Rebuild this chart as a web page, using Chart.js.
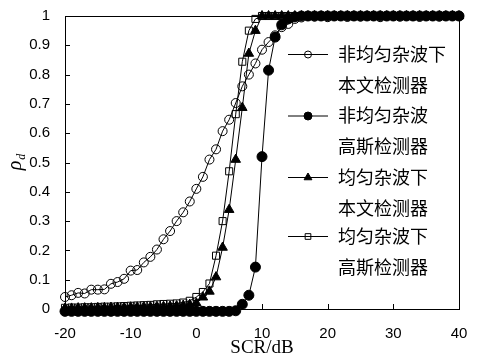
<!DOCTYPE html>
<html>
<head>
<meta charset="utf-8">
<script src="https://cdn.jsdelivr.net/npm/chart.js@4/dist/chart.umd.min.js"></script>
<style>
  html, body { margin: 0; padding: 0; background: #fff; }
  #wrap { width: 479px; height: 359px; }
</style>
</head>
<body>
<div id="wrap"><canvas id="pd"></canvas></div>
<script>
// SCR in dB, one point per dB
const scrDb = []
for (let v = -20; v <= 40; v++) scrDb.push(v)

const xTicks = [-20, -10, 0, 10, 20, 30, 40]
const yTicks = [0, 0.1, 0.2, 0.3, 0.4, 0.5, 0.6, 0.7, 0.8, 0.9, 1]

const seriesNames = [
    ['非均匀杂波下', '本文检测器'],
    ['非均匀杂波', '高斯检测器'],
    ['均匀杂波下', '本文检测器'],
    ['均匀杂波下', '高斯检测器']
]

// 非均匀杂波下 本文检测器 (open circles)
const nonUniformProposed = [
    0.041, 0.047, 0.055, 0.053, 0.066, 0.066, 0.067, 0.086, 0.092, 0.103,
    0.131, 0.133, 0.159, 0.178, 0.203, 0.238, 0.266, 0.300, 0.330, 0.367,
    0.410, 0.451, 0.510, 0.545, 0.607, 0.646, 0.703, 0.760, 0.800, 0.838,
    0.885, 0.911, 0.934, 0.962, 0.973, 0.990, 0.995, 1, 0.998, 1,
    0.996, 1, 1, 0.997, 1, 0.998, 1, 1, 0.996, 1,
    1, 0.998, 1, 1, 0.997, 1, 1, 0.998, 1, 1, 1
]

// 非均匀杂波 高斯检测器 (filled circles)
const nonUniformGauss = [
    -0.008, -0.008, -0.008, -0.008, -0.008, -0.008, -0.008, -0.008, -0.008, -0.008,
    -0.008, -0.008, -0.008, -0.008, -0.008, -0.008, -0.008, -0.008, -0.008, -0.008,
    -0.008, -0.008, -0.008, -0.008, -0.008, -0.008, -0.006, 0.016, 0.047, 0.143,
    0.520, 0.815, 0.928, 0.970, 0.990, 0.997, 1, 1, 1, 1,
    1, 1, 1, 1, 1, 1, 1, 1, 1, 1,
    1, 1, 1, 1, 1, 1, 1, 1, 1, 1, 1
]

// 均匀杂波下 本文检测器 (filled triangles)
const uniformProposed = [
    0.002, 0.002, 0.003, 0.003, 0.003, 0.004, 0.004, 0.005, 0.005, 0.005,
    0.006, 0.006, 0.007, 0.007, 0.008, 0.008, 0.009, 0.010, 0.012, 0.015,
    0.020, 0.040, 0.060, 0.109, 0.210, 0.339, 0.510, 0.687, 0.872, 0.950,
    1, 1, 1, 1, 1, 1, 1, 1, 1, 1,
    1, 1, 1, 1, 1, 1, 1, 1, 1, 1,
    1, 1, 1, 1, 1, 1, 1, 1, 1, 1, 1
]

// 均匀杂波下 高斯检测器 (open squares)
const uniformGauss = [
    0.004, 0.005, 0.005, 0.006, 0.006, 0.007, 0.008, 0.008, 0.009, 0.010,
    0.011, 0.012, 0.013, 0.014, 0.016, 0.017, 0.018, 0.019, 0.022, 0.028,
    0.041, 0.058, 0.087, 0.182, 0.300, 0.470, 0.665, 0.844, 0.950, 0.990,
    1, 1, 1, 1, 1, 1, 1, 1, 1, 1,
    1, 1, 1, 1, 1, 1, 1, 1, 1, 1,
    1, 1, 1, 1, 1, 1, 1, 1, 1, 1, 1
]

function toPoints(values) {
    return scrDb.map((x, i) => ({ x: x, y: values[i] }))
}

function makeSet(name, values, style, fill, radius) {
    return {
        label: name.join(''),
        data: toPoints(values),
        borderColor: '#000',
        borderWidth: 1,
        pointStyle: style,
        pointRadius: radius,
        pointBorderWidth: 1,
        pointBorderColor: '#000',
        pointBackgroundColor: fill,
        tension: 0,
        clip: false
    }
}

const datasets = [
    makeSet(seriesNames[0], nonUniformProposed, 'circle', 'rgba(0,0,0,0)', 4.5),
    makeSet(seriesNames[1], nonUniformGauss, 'circle', '#000', 5),
    makeSet(seriesNames[2], uniformProposed, 'triangle', '#000', 5.5),
    makeSet(seriesNames[3], uniformGauss, 'rect', 'rgba(0,0,0,0)', 5)
]

// frame, inward ticks, y title and the two-line legend
const decorations = {
    id: 'decorations',
    afterDraw(chart) {
        const ctx = chart.ctx
        const a = chart.chartArea
        const xs = chart.scales.x
        const ys = chart.scales.y
        ctx.save()
        ctx.strokeStyle = '#000'
        ctx.lineWidth = 1
        ctx.strokeRect(Math.round(a.left) + 0.5, Math.round(a.top) + 0.5,
            Math.round(a.right - a.left), Math.round(a.bottom - a.top))

        ctx.beginPath()
        xTicks.forEach(v => {
            const px = Math.round(xs.getPixelForValue(v)) + 0.5
            ctx.moveTo(px, a.bottom)
            ctx.lineTo(px, a.bottom - 5)
        })
        yTicks.forEach(v => {
            const py = Math.round(ys.getPixelForValue(v)) + 0.5
            ctx.moveTo(a.left, py)
            ctx.lineTo(a.left + 5, py)
        })
        ctx.stroke()

        // y title: rho with subscript d, rotated
        ctx.save()
        ctx.translate(a.left - 47, ys.getPixelForValue(0.5))
        ctx.rotate(-Math.PI / 2)
        ctx.fillStyle = '#000'
        ctx.textBaseline = 'alphabetic'
        ctx.font = 'italic 20px "Liberation Serif", serif'
        const rw = ctx.measureText('ρ').width
        ctx.fillText('ρ', -rw / 2 - 3, 3)
        ctx.font = 'italic 12px "Liberation Serif", serif'
        ctx.fillText('d', rw / 2 - 2, 7)
        ctx.restore()

        // legend
        const lx1 = a.right - 171
        const lx2 = a.right - 131
        const tx = a.right - 121
        const rows = [38, 99.5, 161, 220]
        ctx.font = '18px "Noto Sans CJK SC", sans-serif'
        ctx.textBaseline = 'middle'
        ctx.fillStyle = '#000'
        chart.data.datasets.forEach((ds, i) => {
            const y = a.top + rows[i]
            ctx.beginPath()
            ctx.moveTo(lx1, y + 0.5)
            ctx.lineTo(lx2, y + 0.5)
            ctx.stroke()
            ctx.fillStyle = ds.pointBackgroundColor
            Chart.helpers.drawPoint(ctx, {
                pointStyle: ds.pointStyle,
                radius: ds.pointRadius - 1,
                borderWidth: 1
            }, (lx1 + lx2) / 2, y + 0.5)
            ctx.fillStyle = '#000'
            ctx.fillText(seriesNames[i][0], tx, y)
            ctx.fillText(seriesNames[i][1], tx, y + 31)
        })
        ctx.restore()
    }
}

createChart(
    document.getElementById('pd').getContext('2d'),
    { datasets: datasets },
    'line',
    {
        responsive: true,
        maintainAspectRatio: false,
        animation: false,
        layout: { padding: { left: 0, right: 20, top: 12, bottom: 0 } },
        plugins: {
            legend: { display: false },
            tooltip: { enabled: false }
        },
        scales: {
            x: {
                type: 'linear',
                min: -20,
                max: 40,
                afterBuildTicks: s => { s.ticks = xTicks.map(v => ({ value: v })) },
                afterFit: s => { s.height = 50 },
                grid: { display: false },
                border: { display: false },
                ticks: {
                    color: '#000',
                    padding: 8,
                    font: { family: '"Liberation Sans", Arial, sans-serif', size: 15 }
                },
                title: {
                    display: true,
                    text: 'SCR/dB',
                    color: '#000',
                    padding: { top: 0, bottom: 0 },
                    font: { family: '"Liberation Serif", serif', size: 19 }
                }
            },
            y: {
                min: 0,
                max: 1,
                afterBuildTicks: s => { s.ticks = yTicks.map(v => ({ value: v })) },
                afterFit: s => { s.width = 65 },
                grid: { display: false },
                border: { display: false },
                ticks: {
                    color: '#000',
                    padding: 7,
                    font: { family: '"Liberation Sans", Arial, sans-serif', size: 15 },
                    callback: v => String(Math.round(v * 10) / 10)
                }
            }
        }
    },
    [decorations]
)

function createChart(ctx, data, type, options = {}, plugins = []) {
    new Chart(ctx, {
        type: type,
        data: data,
        options: options,
        plugins: plugins
    });
}
</script>
</body>
</html>
